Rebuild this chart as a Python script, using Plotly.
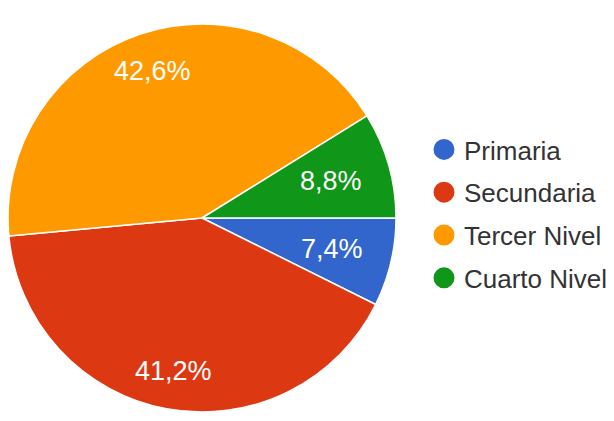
import math
import plotly.graph_objects as go

categories = ["Primaria", "Secundaria", "Tercer Nivel", "Cuarto Nivel"]
counts = [5, 28, 29, 6]
colors = ["#3366CC", "#DC3912", "#FF9900", "#109618"]

W, H = 614, 421
OFF = 8  # page body margin of the browser
cx, cy, r = 202 - OFF, 218 - OFF, 194
FONT = "Arial, Liberation Sans, sans-serif"

fig = go.Figure()
fig.add_trace(go.Pie(
    labels=categories,
    values=counts,
    sort=False,
    direction="clockwise",
    rotation=90,
    marker=dict(colors=colors, line=dict(color="white", width=1.5)),
    textinfo="none",
    showlegend=False,
    hoverinfo="label+percent",
    domain=dict(x=[max(0, (cx - r) / W), (cx + r) / W],
                y=[(H - cy - r) / H, (H - cy + r) / H]),
))

# percentage labels placed along each slice's mid-angle
total = sum(counts)
cum = 0
for v in counts:
    frac = v / total
    mid = (cum + frac / 2) * 2 * math.pi  # clockwise from 3 o'clock
    cum += frac
    k = 0.8 if frac > 0.2 else 0.69
    px = cx + k * r * math.cos(mid)
    py = cy + k * r * math.sin(mid)
    fig.add_annotation(
        x=px / W, y=1 - py / H, xref="paper", yref="paper",
        text=f"{frac * 100:.1f}%".replace(".", ","),
        showarrow=False, xanchor="center", yanchor="middle",
        font=dict(color="white", size=27, family=FONT),
    )

for name, col in zip(categories, colors):
    fig.add_trace(go.Scatter(
        x=[None], y=[None], mode="markers", name=name,
        legendgroup=name,
        marker=dict(symbol="circle", size=16, color=col, line=dict(color=col, width=5)),
        hoverinfo="skip",
    ))

fig.update_layout(
    width=W, height=H,
    margin=dict(l=0, r=0, t=0, b=0),
    paper_bgcolor="white",
    plot_bgcolor="white",
    separators=",.",
    xaxis=dict(visible=False),
    yaxis=dict(visible=False),
    legend=dict(
        x=(444 - OFF - 20) / W, xanchor="left",
        y=1 - (214 - OFF) / H, yanchor="middle",
        font=dict(size=26, color="#333333", family=FONT),
        traceorder="grouped",
        tracegroupgap=6,
        itemsizing="trace",
        bgcolor="rgba(0,0,0,0)",
    ),
)

fig.write_html("out.html")
